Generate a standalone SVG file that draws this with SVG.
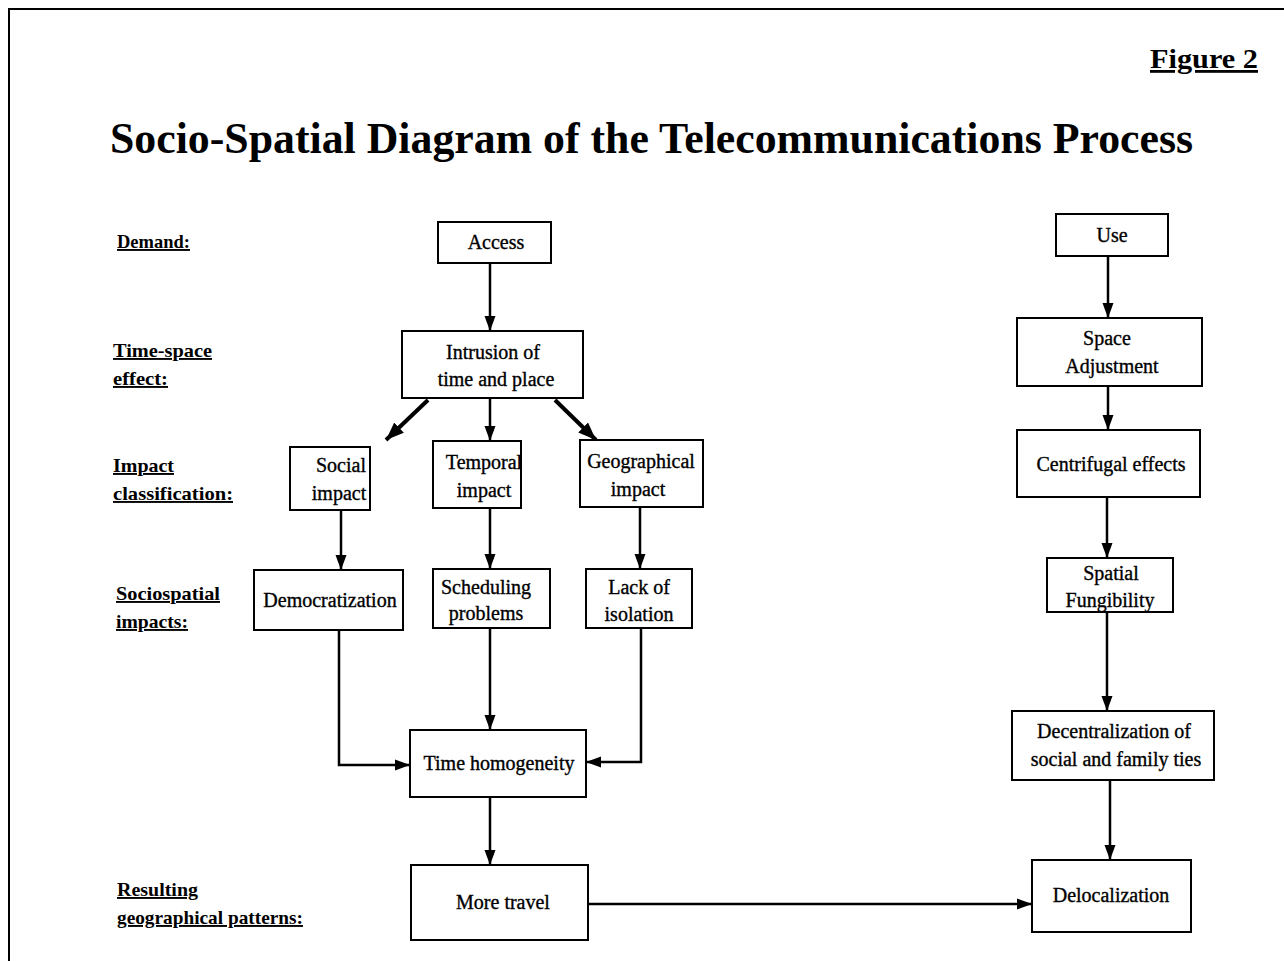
<svg xmlns="http://www.w3.org/2000/svg" width="1284" height="961" viewBox="0 0 1284 961">
<style>
.box{fill:#fff;stroke:#000;stroke-width:2}
.t{font-family:"Liberation Serif","Times New Roman",serif;font-size:20px;fill:#000;text-anchor:middle;stroke:#000;stroke-width:0.35}
.lbl{font-family:"Liberation Serif","Times New Roman",serif;font-size:19px;font-weight:bold;fill:#000;text-decoration:underline}
.c{fill:none;stroke:#000;stroke-width:2.5;marker-end:url(#ah)}
.d{fill:none;stroke:#000;stroke-width:4;marker-end:url(#ah2)}
</style>
<defs>
<marker id="ah" markerUnits="userSpaceOnUse" markerWidth="16" markerHeight="12" refX="15" refY="6" orient="auto"><path d="M0,0.5 L15,6 L0,11.5 Z" fill="#000"/></marker>
<marker id="ah2" markerUnits="userSpaceOnUse" markerWidth="19" markerHeight="16" refX="18" refY="8" orient="auto"><path d="M0,1 L18,8 L0,15 Z" fill="#000"/></marker>
</defs>
<rect width="1284" height="961" fill="#fff"/>
<path d="M9,961 V9 H1284" fill="none" stroke="#000" stroke-width="2"/>
<text x="1258" y="68" font-family="Liberation Serif,serif" font-size="28" font-weight="bold" text-anchor="end" text-decoration="underline" textLength="108" lengthAdjust="spacingAndGlyphs">Figure 2</text>
<text x="110" y="153" font-family="Liberation Serif,serif" font-size="45" font-weight="bold" textLength="1083" lengthAdjust="spacingAndGlyphs">Socio-Spatial Diagram of the Telecommunications Process</text>
<g id="labels">
<text class="lbl" x="117" y="248" textLength="73" lengthAdjust="spacingAndGlyphs">Demand:</text>
<text class="lbl" x="113" y="357" textLength="99" lengthAdjust="spacingAndGlyphs">Time-space</text>
<text class="lbl" x="113" y="385" textLength="55" lengthAdjust="spacingAndGlyphs">effect:</text>
<text class="lbl" x="113" y="472" textLength="61" lengthAdjust="spacingAndGlyphs">Impact</text>
<text class="lbl" x="113" y="500" textLength="120" lengthAdjust="spacingAndGlyphs">classification:</text>
<text class="lbl" x="116" y="600" textLength="104" lengthAdjust="spacingAndGlyphs">Sociospatial</text>
<text class="lbl" x="116" y="628" textLength="72" lengthAdjust="spacingAndGlyphs">impacts:</text>
<text class="lbl" x="117" y="896" textLength="81" lengthAdjust="spacingAndGlyphs">Resulting</text>
<text class="lbl" x="117" y="924" textLength="186" lengthAdjust="spacingAndGlyphs">geographical patterns:</text>
</g>
<g id="connectors">
<path class="c" d="M490,263 V331"/>
<path class="d" d="M428,400 L386,440"/>
<path class="c" d="M490,398 V441"/>
<path class="d" d="M555,400 L596,440"/>
<path class="c" d="M341,510 V570"/>
<path class="c" d="M490,508 V569"/>
<path class="c" d="M640,507 V569"/>
<path class="c" d="M339,630 V765 H410"/>
<path class="c" d="M490,628 V730"/>
<path class="c" d="M641,628 V762 H586"/>
<path class="c" d="M490,797 V865"/>
<path class="c" d="M588,904 H1032"/>
<path class="c" d="M1108,256 V318"/>
<path class="c" d="M1108,386 V430"/>
<path class="c" d="M1107,497 V558"/>
<path class="c" d="M1107,612 V711"/>
<path class="c" d="M1110,780 V860"/>
</g>
<g id="access"><rect class="box" x="438" y="222" width="113" height="41"/><text class="t" x="496" y="249">Access</text></g>
<g id="intrusion"><rect class="box" x="402" y="331" width="181" height="67"/><text class="t" x="493" y="359">Intrusion of</text><text class="t" x="496" y="386">time and place</text></g>
<g id="social"><rect class="box" x="290" y="447" width="80" height="63"/><text class="t" x="341" y="472">Social</text><text class="t" x="339" y="500">impact</text></g>
<g id="temporal"><rect class="box" x="433" y="441" width="88" height="67"/><text class="t" x="484" y="469">Temporal</text><text class="t" x="484" y="497">impact</text></g>
<g id="geographical"><rect class="box" x="580" y="440" width="123" height="67"/><text class="t" x="641" y="468">Geographical</text><text class="t" x="638" y="496">impact</text></g>
<g id="democratization"><rect class="box" x="254" y="570" width="149" height="60"/><text class="t" x="330" y="607">Democratization</text></g>
<g id="scheduling"><rect class="box" x="433" y="569" width="117" height="59"/><text class="t" x="486" y="594">Scheduling</text><text class="t" x="486" y="620">problems</text></g>
<g id="lack"><rect class="box" x="586" y="569" width="106" height="59"/><text class="t" x="639" y="594">Lack of</text><text class="t" x="639" y="621">isolation</text></g>
<g id="timehomog"><rect class="box" x="410" y="730" width="176" height="67"/><text class="t" x="499" y="770">Time homogeneity</text></g>
<g id="moretravel"><rect class="box" x="411" y="865" width="177" height="75"/><text class="t" x="503" y="909">More travel</text></g>
<g id="use"><rect class="box" x="1056" y="214" width="112" height="42"/><text class="t" x="1112" y="242">Use</text></g>
<g id="space"><rect class="box" x="1017" y="318" width="185" height="68"/><text class="t" x="1107" y="345">Space</text><text class="t" x="1112" y="373">Adjustment</text></g>
<g id="centrifugal"><rect class="box" x="1017" y="430" width="183" height="67"/><text class="t" x="1111" y="471">Centrifugal effects</text></g>
<g id="spatial"><rect class="box" x="1047" y="558" width="126" height="54"/><text class="t" x="1111" y="580">Spatial</text><text class="t" x="1110" y="607">Fungibility</text></g>
<g id="decentral"><rect class="box" x="1012" y="711" width="202" height="69"/><text class="t" x="1114" y="738">Decentralization of</text><text class="t" x="1116" y="766">social and family ties</text></g>
<g id="deloc"><rect class="box" x="1032" y="860" width="159" height="72"/><text class="t" x="1111" y="902">Delocalization</text></g>
</svg>
